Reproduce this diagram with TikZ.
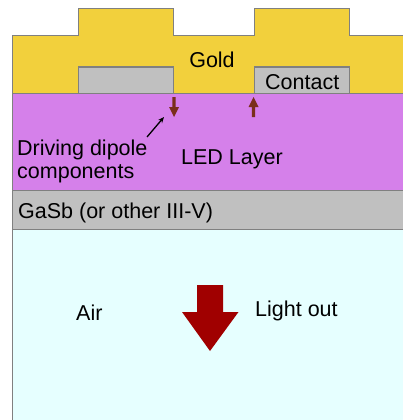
\documentclass[tikz,border=0pt]{standalone}
\usepackage{fontspec}
\setmainfont{Liberation Sans}
\usetikzlibrary{arrows.meta}
\definecolor{goldc}{HTML}{F2D03C}
\definecolor{ledc}{HTML}{D580EA}
\definecolor{greyc}{HTML}{C0C0C0}
\definecolor{airc}{HTML}{E6FFFF}
\definecolor{edgec}{HTML}{808080}
\definecolor{bigred}{HTML}{A00000}
\definecolor{dipc}{HTML}{7A2E1A}
\begin{document}
\begin{tikzpicture}[x=1pt,y=-1pt,
  layer/.style={draw=edgec,line width=1pt},
  lbl/.style={anchor=base west,inner sep=0pt,font=\fontsize{21.5}{24}\selectfont},
  dip/.style={fill=dipc,draw=none}]
\useasboundingbox (0,0) rectangle (403,420);
% air
\fill[airc] (12.5,229) rectangle (410,425);
\draw[edgec,line width=1pt] (12.5,229) -- (12.5,425);
% GaSb
\draw[layer,fill=greyc] (12.5,190) rectangle (410,229);
% LED layer
\draw[layer,fill=ledc] (12.5,93) rectangle (410,190);
% gold
\draw[layer,fill=goldc] (12.5,93) -- (12.5,36) -- (78,36) -- (78,8.5) -- (173,8.5) -- (173,36)
  -- (254,36) -- (254,8.5) -- (349,8.5) -- (349,36) -- (410,36) -- (410,93) -- cycle;
% contacts
\draw[layer,fill=greyc] (78,93) rectangle (173,67);
\draw[layer,fill=greyc] (254,93) rectangle (349,67);
% texts
\node[anchor=base,inner sep=0pt,font=\fontsize{21.5}{24}\selectfont] (gold) at (212,67) {Gold};
\node[lbl] (contact) at (265,89) {Contact};
\node[lbl] (drv1) at (17,155) {Driving dipole};
\node[lbl] (drv2) at (17,178) {components};
\node[lbl] (led) at (181,164) {LED Layer};
\node[lbl] (gasb) at (18,218) {GaSb (or other III-V)};
\node[lbl] (air) at (76,320) {Air};
\node[lbl] (light) at (255,316) {Light out};
% dipole arrows
\fill[dip] (172.3,97) -- (175.7,97) -- (175.7,107) -- (179,107) -- (174,117) -- (169,107) -- (172.3,107) -- cycle;
\fill[dip] (251.8,117) -- (255.2,117) -- (255.2,107) -- (258.5,107) -- (253.5,97) -- (248.5,107) -- (251.8,107) -- cycle;
% pointer arrow
\coordinate (ps) at (147,137);
\coordinate (pe) at (164,117);
\draw[line width=1.3pt,-{Stealth[length=6pt,width=5pt]}] (ps) -- (pe);
% big arrow
\fill[bigred] (197,285) -- (223,285) -- (223,312) -- (238.5,312) -- (210,351) -- (182,312) -- (197,312) -- cycle;
\end{tikzpicture}
\end{document}
